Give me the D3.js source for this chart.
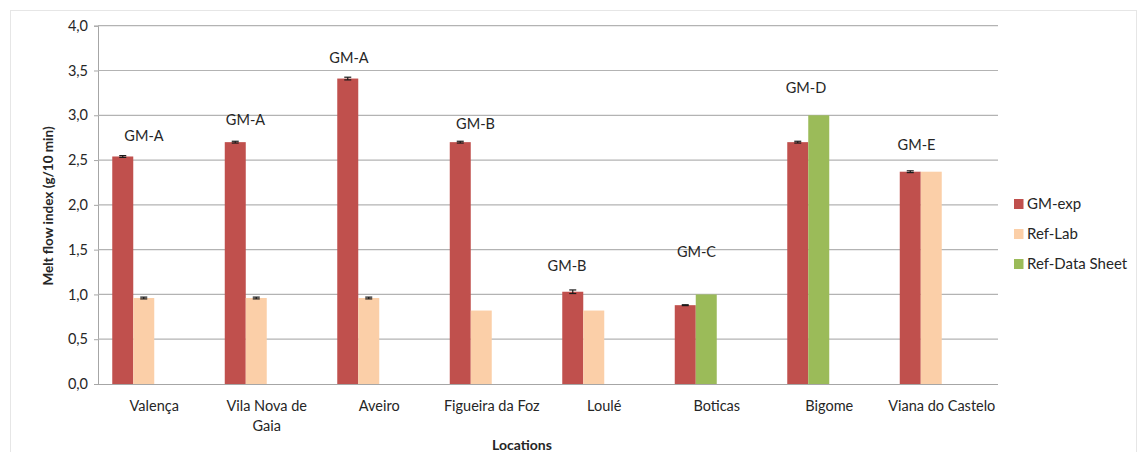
<!DOCTYPE html>
<html><head><meta charset="utf-8">
<script src="https://cdn.jsdelivr.net/npm/d3@7"></script>
<style>
body{margin:0;background:#fff;}
text{font-family:Lato,"Open Sans",sans-serif;fill:#262626;}
</style></head><body>
<svg id="c" width="1139" height="452"></svg>
<script>
// ---- data ----
const categories = ["Valença","Vila Nova de Gaia","Aveiro","Figueira da Foz","Loulé","Boticas","Bigome","Viana do Castelo"];
const gmExp      = [2.54, 2.70, 3.41, 2.70, 1.03, 0.88, 2.70, 2.37];
const gmExpErr   = [0.01, 0.01, 0.015, 0.01, 0.02, 0.005, 0.01, 0.01];
const refValue   = [0.96, 0.96, 0.96, 0.82, 0.82, 1.00, 3.00, 2.37];
const refSeries  = ["Ref-Lab","Ref-Lab","Ref-Lab","Ref-Lab","Ref-Lab","Ref-Data Sheet","Ref-Data Sheet","Ref-Lab"];
const refErr     = [0.01, 0.01, 0.01, 0, 0, 0, 0, 0];
const groupLabels = ["GM-A","GM-A","GM-A","GM-B","GM-B","GM-C","GM-D","GM-E"];
const labelAnchor = [2.77, 2.95, 3.64, 2.90, 1.32, 1.47, 3.31, 2.67];   // annotation heights (axis units)
const labelShift  = [46, 35, 26, 40, 19, 36, 33, 31];                  // annotation x offset within band (manual layout)
const seriesNames = ["GM-exp","Ref-Lab","Ref-Data Sheet"];
const yTicks = [0,0.5,1,1.5,2,2.5,3,3.5,4];

const colors = {"GM-exp":"#c0504d","Ref-Lab":"#fbcfa8","Ref-Data Sheet":"#9bbb59"};

const svg = d3.select("#c");
const L=98, R=998, T=25.7, B=384;

// chart border
svg.append("rect").attr("x",10.5).attr("y",10.5).attr("width",1126).attr("height",460)
  .attr("fill","none").attr("stroke","#e6e6e6");

const x = d3.scaleBand().domain(categories).range([L,R]).padding(0);
const slots = d3.scaleBand().domain(["s0","s1","s2","s3"]).range([0,x.bandwidth()]).paddingInner(0).paddingOuter(0.679);
const y = d3.scaleLinear().domain([0,4]).range([B,T]);

const fmt = d => d3.format(".1f")(d).replace(".",",");
const yAxis = d3.axisLeft(y).tickValues(yTicks).tickFormat(fmt).tickSize(4).tickPadding(6);
const ga = svg.append("g").attr("transform",`translate(${L},0)`).call(yAxis);
ga.select(".domain").attr("stroke","#a6a6a6");
ga.selectAll(".tick line").attr("stroke","#a6a6a6");
ga.selectAll(".tick text").style("font-size","14.5px").attr("fill","#262626");
svg.append("g").selectAll("line").data(yTicks.filter(d=>d>0)).join("line")
  .attr("x1",L).attr("x2",R).attr("y1",d=>y(d)).attr("y2",d=>y(d))
  .attr("stroke","#b3b3b3").attr("stroke-width",1.2);

// bars
const bw = slots.bandwidth();
svg.append("g").selectAll("rect").data(categories).join("rect")
  .attr("x",(d)=>x(d)+slots("s0")).attr("width",bw)
  .attr("y",(d,i)=>y(gmExp[i])).attr("height",(d,i)=>y(0)-y(gmExp[i]))
  .attr("fill",colors["GM-exp"]);
svg.append("g").selectAll("rect").data(categories).join("rect")
  .attr("x",(d)=>x(d)+slots("s1")).attr("width",bw)
  .attr("y",(d,i)=>y(refValue[i])).attr("height",(d,i)=>y(0)-y(refValue[i]))
  .attr("fill",(d,i)=>colors[refSeries[i]]);

svg.append("line").attr("x1",L).attr("x2",R).attr("y1",B+0.5).attr("y2",B+0.5).attr("stroke","#a6a6a6").attr("stroke-width",1.2);

function errBars(vals, errs, slot){
  const g = svg.append("g").attr("stroke","#1a1a1a").attr("stroke-width",1.2);
  categories.forEach((c,i)=>{
    if(!errs[i]) return;
    const cx = x(c)+slots(slot)+bw/2;
    const y1=y(vals[i]+errs[i]), y2=y(vals[i]-errs[i]);
    g.append("line").attr("x1",cx).attr("x2",cx).attr("y1",y1).attr("y2",y2);
    g.append("line").attr("x1",cx-3.5).attr("x2",cx+3.5).attr("y1",y1).attr("y2",y1);
    g.append("line").attr("x1",cx-3.5).attr("x2",cx+3.5).attr("y1",y2).attr("y2",y2);
  });
}
errBars(gmExp, gmExpErr, "s0");
errBars(refValue, refErr, "s1");

svg.append("g").selectAll("text").data(groupLabels).join("text")
  .attr("x",(d,i)=>x(categories[i])+labelShift[i]).attr("y",(d,i)=>y(labelAnchor[i]))
  .attr("dy","0.35em").attr("text-anchor","middle").style("font-size","14.5px").text(d=>d);

const xl = svg.append("g");
categories.forEach(c=>{
  const cx = x(c)+x.bandwidth()/2;
  const t = xl.append("text").attr("x",cx).attr("y",411)
    .attr("text-anchor","middle").style("font-size","14.5px");
  if(c==="Vila Nova de Gaia"){
    t.append("tspan").attr("x",cx).text("Vila Nova de");
    t.append("tspan").attr("x",cx).attr("dy",20).text("Gaia");
  } else t.text(c);
});

svg.append("text").attr("transform","translate(53,206) rotate(-90)").attr("text-anchor","middle")
  .style("font-size","13.5px").style("font-weight","bold").text("Melt flow index (g/10 min)");
svg.append("text").attr("x",522).attr("y",450).attr("text-anchor","middle")
  .style("font-size","14px").style("font-weight","bold").text("Locations");

const lg = svg.append("g").attr("transform","translate(1014,0)");
seriesNames.forEach((s,i)=>{
  const yy = 204 + i*30;
  lg.append("rect").attr("x",0).attr("y",yy-5).attr("width",9.5).attr("height",10).attr("fill",colors[s]);
  lg.append("text").attr("x",13).attr("y",yy).attr("dy","0.35em").style("font-size","15px").text(s);
});
</script></body></html>
